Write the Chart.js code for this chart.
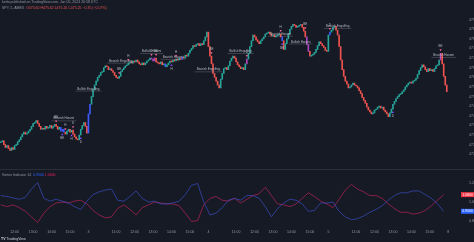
<!DOCTYPE html>
<html><head><meta charset="utf-8">
<script src="https://cdn.jsdelivr.net/npm/chart.js@4.4.1/dist/chart.umd.min.js"></script>
<style>
html,body{margin:0;padding:0;background:#161a25;width:474px;height:242px;overflow:hidden;font-family:"Liberation Sans",Arial,sans-serif}
canvas{position:absolute;left:0}
#main{top:0}
#ind{top:169px}
.t{position:absolute;font-size:3.5px;line-height:4px;white-space:nowrap;color:#9598a1}
.sep{position:absolute;left:0;top:169px;width:474px;height:1px;background:#2a2e39}
</style></head>
<body>
<canvas id="main" width="474" height="170"></canvas>
<div class="sep"></div>
<canvas id="ind" width="474" height="70"></canvas>
<div class="t" style="left:2px;top:0px">ketto published on TradingView.com, Jan 05, 2024 20:58 UTC</div>
<div class="t" style="left:2px;top:6px">SPY, 5, AMEX &nbsp;<span style="color:#ef5350">O475.60 H475.62 L475.20 C475.25 −0.35 (−0.07%)</span></div>
<div class="t" style="left:2px;top:173px">Vortex Indicator 14 &nbsp;<span style="color:#2962ff">0.9000</span> <span style="color:#e91e63">1.0800</span></div>
<div class="t" style="left:1px;top:237px;color:#d1d4dc"><b>TV</b> TradingView</div>
<script>
// ---- price data (5-minute bars, closes) ----
const closes = [
472.65,472.70,472.50,472.35,472.45,472.30,472.20,472.35,472.25,472.45,472.50,472.65,472.75,472.90,473.05,473.15,473.05,473.10,473.20,473.30,473.45,473.60,473.65,473.75,473.60,473.45,473.30,473.35,473.30,473.45,473.35,473.40,473.50,473.35,473.45,473.55,473.45,473.30,473.40,473.20,473.30,473.15,473.05,473.20,473.30,473.15,473.25,473.05,472.90,472.80,472.75,473.00,473.30,473.50,473.65,473.45,473.10,
474.10,474.60,475.00,475.35,475.60,475.80,476.00,476.10,476.25,476.30,476.50,476.60,476.55,476.40,476.45,476.35,476.25,476.10,476.00,475.95,476.05,476.30,476.40,476.50,476.60,476.65,476.75,476.80,476.75,476.85,476.80,476.90,476.80,476.70,476.65,476.75,476.65,476.75,476.85,476.90,477.00,476.95,476.85,477.00,476.80,476.75,476.70,476.80,476.65,476.70,476.55,476.65,476.75,476.85,476.80,476.90,476.85,476.95,476.90,477.00,476.95,477.05,477.00,477.15,477.10,477.25,477.40,477.50,477.65,477.60,477.70,477.75,477.65,477.75,477.70,477.90,478.10,478.35,
477.60,477.10,476.70,476.20,476.00,475.80,475.60,475.45,475.90,476.20,476.45,476.50,476.40,476.60,476.85,477.00,477.10,477.00,476.80,476.65,476.55,476.45,476.50,476.40,476.70,476.95,477.25,477.60,477.90,478.20,478.10,477.95,477.85,477.75,477.90,478.00,478.10,478.25,478.30,478.35,478.25,478.15,478.20,478.10,478.15,478.20,478.25,478.10,477.90,477.45,477.75,478.00,478.25,478.50,478.65,478.75,478.70,478.60,478.65,478.70,478.75,478.60,478.40,478.10,477.70,477.35,477.10,477.15,477.20,477.30,477.45,477.65,477.85,477.75,477.65,477.55,477.40,477.35,
478.20,478.35,478.45,478.60,478.65,478.45,478.20,477.60,476.90,476.40,476.05,475.80,475.65,475.45,475.50,475.60,475.70,475.60,475.55,475.45,475.30,475.15,474.95,474.80,474.65,474.45,474.30,474.20,474.10,474.15,474.30,474.35,474.45,474.50,474.40,474.45,474.30,474.20,474.10,473.95,474.15,474.35,474.60,474.75,474.90,475.00,475.10,475.15,475.25,475.35,475.50,475.60,475.70,475.75,475.70,475.80,475.85,475.95,476.15,476.35,476.50,476.65,476.55,476.40,476.30,476.45,476.35,476.40,476.30,476.45,476.60,476.65,476.90,477.25,476.70,476.05,475.60,475.25
];
const firstOpen = 472.60;
const blueBars = [39,40,41,57,58,107,118,183,214];
const purpleBars = [98,99,100,160,199,200,286];
const priceTicks = [472.00,472.50,473.00,473.50,474.00,474.50,475.00,475.50,476.00,476.50,477.00,477.50,478.00,478.50,479.00];

// ---- time axis ----
const timeBars = [9,21,33,45,57,75,87,99,111,123,135,153,165,177,189,201,213,231,243,255,267,279,291];
const timeLabels = ['12:00','13:00','14:00','15:00','3','11:00','12:00','13:00','14:00','15:00','4','11:00','12:00','13:00','14:00','15:00','5','11:00','12:00','13:00','14:00','15:00','8'];

// ---- Vortex indicator (sampled every 4 bars) ----
const VI_STEP = 4;
const viPlus = [1.07,1.06,1.045,1.03,1.05,1.14,1.21,1.04,1.01,1.03,1.01,0.99,0.95,0.92,1.01,1.08,1.11,1.13,1.14,1.02,1.01,1.06,1.12,1.04,1.00,1.01,0.98,0.98,0.99,1.01,1.08,1.18,1.20,1.00,0.86,0.88,0.94,1.02,1.04,1.02,1.07,1.07,1.04,0.95,0.84,0.93,0.99,1.03,1.02,0.98,0.90,0.91,0.99,0.99,1.00,0.90,0.84,0.81,0.82,0.85,0.89,0.92,0.96,1.02,1.07,1.10,1.10,1.12,1.12,1.08,1.04,0.98,0.90];
const viMinus = [0.97,0.95,0.97,0.94,0.90,0.84,0.78,0.88,0.95,0.99,1.00,0.99,1.01,1.02,0.98,0.91,0.86,0.83,0.84,0.93,0.97,0.92,0.86,0.94,0.97,1.00,0.99,0.98,0.98,0.96,0.88,0.79,0.80,0.97,1.04,1.06,1.02,1.01,1.04,0.99,1.03,1.07,1.09,1.16,1.07,0.98,0.97,0.95,0.98,1.04,1.10,1.06,1.01,0.98,0.94,1.03,1.13,1.19,1.14,1.11,1.07,1.07,1.04,0.98,0.93,0.89,0.89,0.87,0.88,0.91,0.96,1.02,1.08];
const viTicks = [0.8,1.0,1.2];

// ---- annotations ----
const noteBars = [41,57,78,98,112,135,156,182,195,219,288];
const notePrices = [473.85,475.40,476.85,477.35,477.05,476.40,477.35,478.25,477.85,478.65,477.15];
const noteTexts = ['Bearish Harami','Bullish Engulfing','Bearish Engulfing','Bullish Harami','Bearish Harami','Bearish Engulfing','Bullish Engulfing','Bearish Harami','Bullish Harami','Bearish Engulfing','Bearish Harami'];
const upMarkBars = [36,42,47,77,83,98,101,114,137,160,182,198,214,286];
const upMarkTexts = ['BE','H','D','BE','H','D','BE','H','BE','D','H','BE','D','BE'];
const dnMarkBars = [40,46,52,111,183,255];
const dnMarkTexts = ['BE','H','D','H','BE','D'];

const UP = '#26a69a', DOWN = '#ef5350';
const opens = [firstOpen].concat(closes.slice(0, -1));
function barColor(i){
  if (blueBars.includes(i)) return '#3d5afe';
  if (purpleBars.includes(i)) return '#ab47bc';
  return closes[i] >= opens[i] ? UP : DOWN;
}
const FONT = '"Liberation Sans", Arial, sans-serif';

const notesPlugin = {
  id:'notes',
  afterDatasetsDraw(chart){
    const ctx = chart.ctx, xs = chart.scales.x, ys = chart.scales.y;
    ctx.save();
    ctx.textAlign = 'center'; ctx.textBaseline = 'middle';
    ctx.font = '3px ' + FONT;
    noteBars.forEach((b,k)=>{
      const x = xs.getPixelForValue(b), y = ys.getPixelForValue(notePrices[k]);
      const w = ctx.measureText(noteTexts[k]).width;
      ctx.fillStyle = '#b8bbc4';
      ctx.fillText(noteTexts[k], x, y);
      ctx.strokeStyle = 'rgba(200,203,211,0.45)'; ctx.lineWidth = 0.5;
      ctx.beginPath(); ctx.moveTo(x - w/2 - 2, y + 2.2); ctx.lineTo(x + w/2 + 2, y + 2.2); ctx.stroke();
    });
    upMarkBars.forEach((b,k)=>{
      const x = xs.getPixelForValue(b), top = ys.getPixelForValue(Math.max(opens[b], closes[b]));
      ctx.fillStyle = '#f06292';
      ctx.beginPath(); ctx.moveTo(x-1.2, top-4); ctx.lineTo(x+1.2, top-4); ctx.lineTo(x, top-2); ctx.closePath(); ctx.fill();
      ctx.fillStyle = '#b8bbc4';
      ctx.fillText(upMarkTexts[k], x, top-7);
    });
    dnMarkBars.forEach((b,k)=>{
      const x = xs.getPixelForValue(b), bot = ys.getPixelForValue(Math.min(opens[b], closes[b]));
      ctx.fillStyle = '#7c4dff';
      ctx.beginPath(); ctx.moveTo(x-1.2, bot+4); ctx.lineTo(x+1.2, bot+4); ctx.lineTo(x, bot+2); ctx.closePath(); ctx.fill();
      ctx.fillStyle = '#b8bbc4';
      ctx.fillText(dnMarkTexts[k], x, bot+7);
    });
    ctx.restore();
  }
};

new Chart(document.getElementById('main'), {
  type:'bar',
  data:{datasets:[{
    data: closes.map((c,i)=>({x:i, y:[opens[i], c]})),
    backgroundColor: closes.map((c,i)=>barColor(i)),
    barThickness:1, minBarLength:1, borderWidth:0
  }]},
  options:{
    responsive:false, animation:false, devicePixelRatio:1,
    layout:{padding:{top:10,bottom:1,left:0,right:0}},
    plugins:{legend:{display:false}, tooltip:{enabled:false}},
    scales:{
      x:{type:'linear', min:-0.5, max:296, offset:false, display:false, grid:{offset:false}},
      y:{position:'right', min:471.55, max:479.5,
         afterBuildTicks:s=>{ s.ticks = priceTicks.map(v=>({value:v})); },
         afterFit:s=>{ s.width = 18; },
         ticks:{font:{size:3.5,family:FONT}, color:'#9598a1', padding:5, callback:v=>Number(v).toFixed(2)},
         grid:{display:false}, border:{display:false}}
    }
  },
  plugins:[notesPlugin]
});

const boxColors = ['#2962ff', '#f23645'];
const boxPlugin = {
  id:'boxes',
  afterDraw(chart){
    const ctx = chart.ctx, ys = chart.scales.y, ca = chart.chartArea;
    ctx.save();
    ctx.font = '3.5px ' + FONT; ctx.textAlign = 'center'; ctx.textBaseline = 'middle';
    chart.data.datasets.forEach((ds,k)=>{
      const v = ds.data[ds.data.length-1].y, y = ys.getPixelForValue(v);
      ctx.fillStyle = boxColors[k];
      ctx.fillRect(ca.right + 5, y - 2.5, 13, 5);
      ctx.fillStyle = '#ffffff';
      ctx.fillText(v.toFixed(4), ca.right + 11.5, y + 0.2);
    });
    ctx.restore();
  }
};

new Chart(document.getElementById('ind'), {
  type:'line',
  data:{datasets:[
    {data: viPlus.map((v,k)=>({x:k*VI_STEP, y:v})), borderColor:'rgba(60,80,200,0.85)', borderWidth:0.8, pointRadius:0, tension:0},
    {data: viMinus.map((v,k)=>({x:k*VI_STEP, y:v})), borderColor:'rgba(190,35,90,0.85)', borderWidth:0.8, pointRadius:0, tension:0}
  ]},
  options:{
    responsive:false, animation:false, devicePixelRatio:1,
    layout:{padding:{top:3,bottom:0,left:0,right:0}},
    plugins:{legend:{display:false}, tooltip:{enabled:false}},
    scales:{
      x:{type:'linear', min:-0.5, max:296, offset:false,
         afterBuildTicks:s=>{ s.ticks = timeBars.map(v=>({value:v})); },
         afterFit:s=>{ s.height = 11; },
         ticks:{font:{size:3.5,family:FONT}, color:'#9598a1', padding:2, autoSkip:false, maxRotation:0,
                callback:v=>{ const k = timeBars.indexOf(v); return k>=0 ? timeLabels[k] : ''; }},
         grid:{display:false, drawTicks:false}, border:{display:false}},
      y:{position:'right', min:0.72, max:1.28,
         afterBuildTicks:s=>{ s.ticks = viTicks.map(v=>({value:v})); },
         afterFit:s=>{ s.width = 18; },
         ticks:{font:{size:3.5,family:FONT}, color:'#9598a1', padding:5, callback:v=>Number(v).toFixed(4)},
         grid:{display:false}, border:{display:false}}
    }
  },
  plugins:[boxPlugin]
});
</script>
</body></html>
